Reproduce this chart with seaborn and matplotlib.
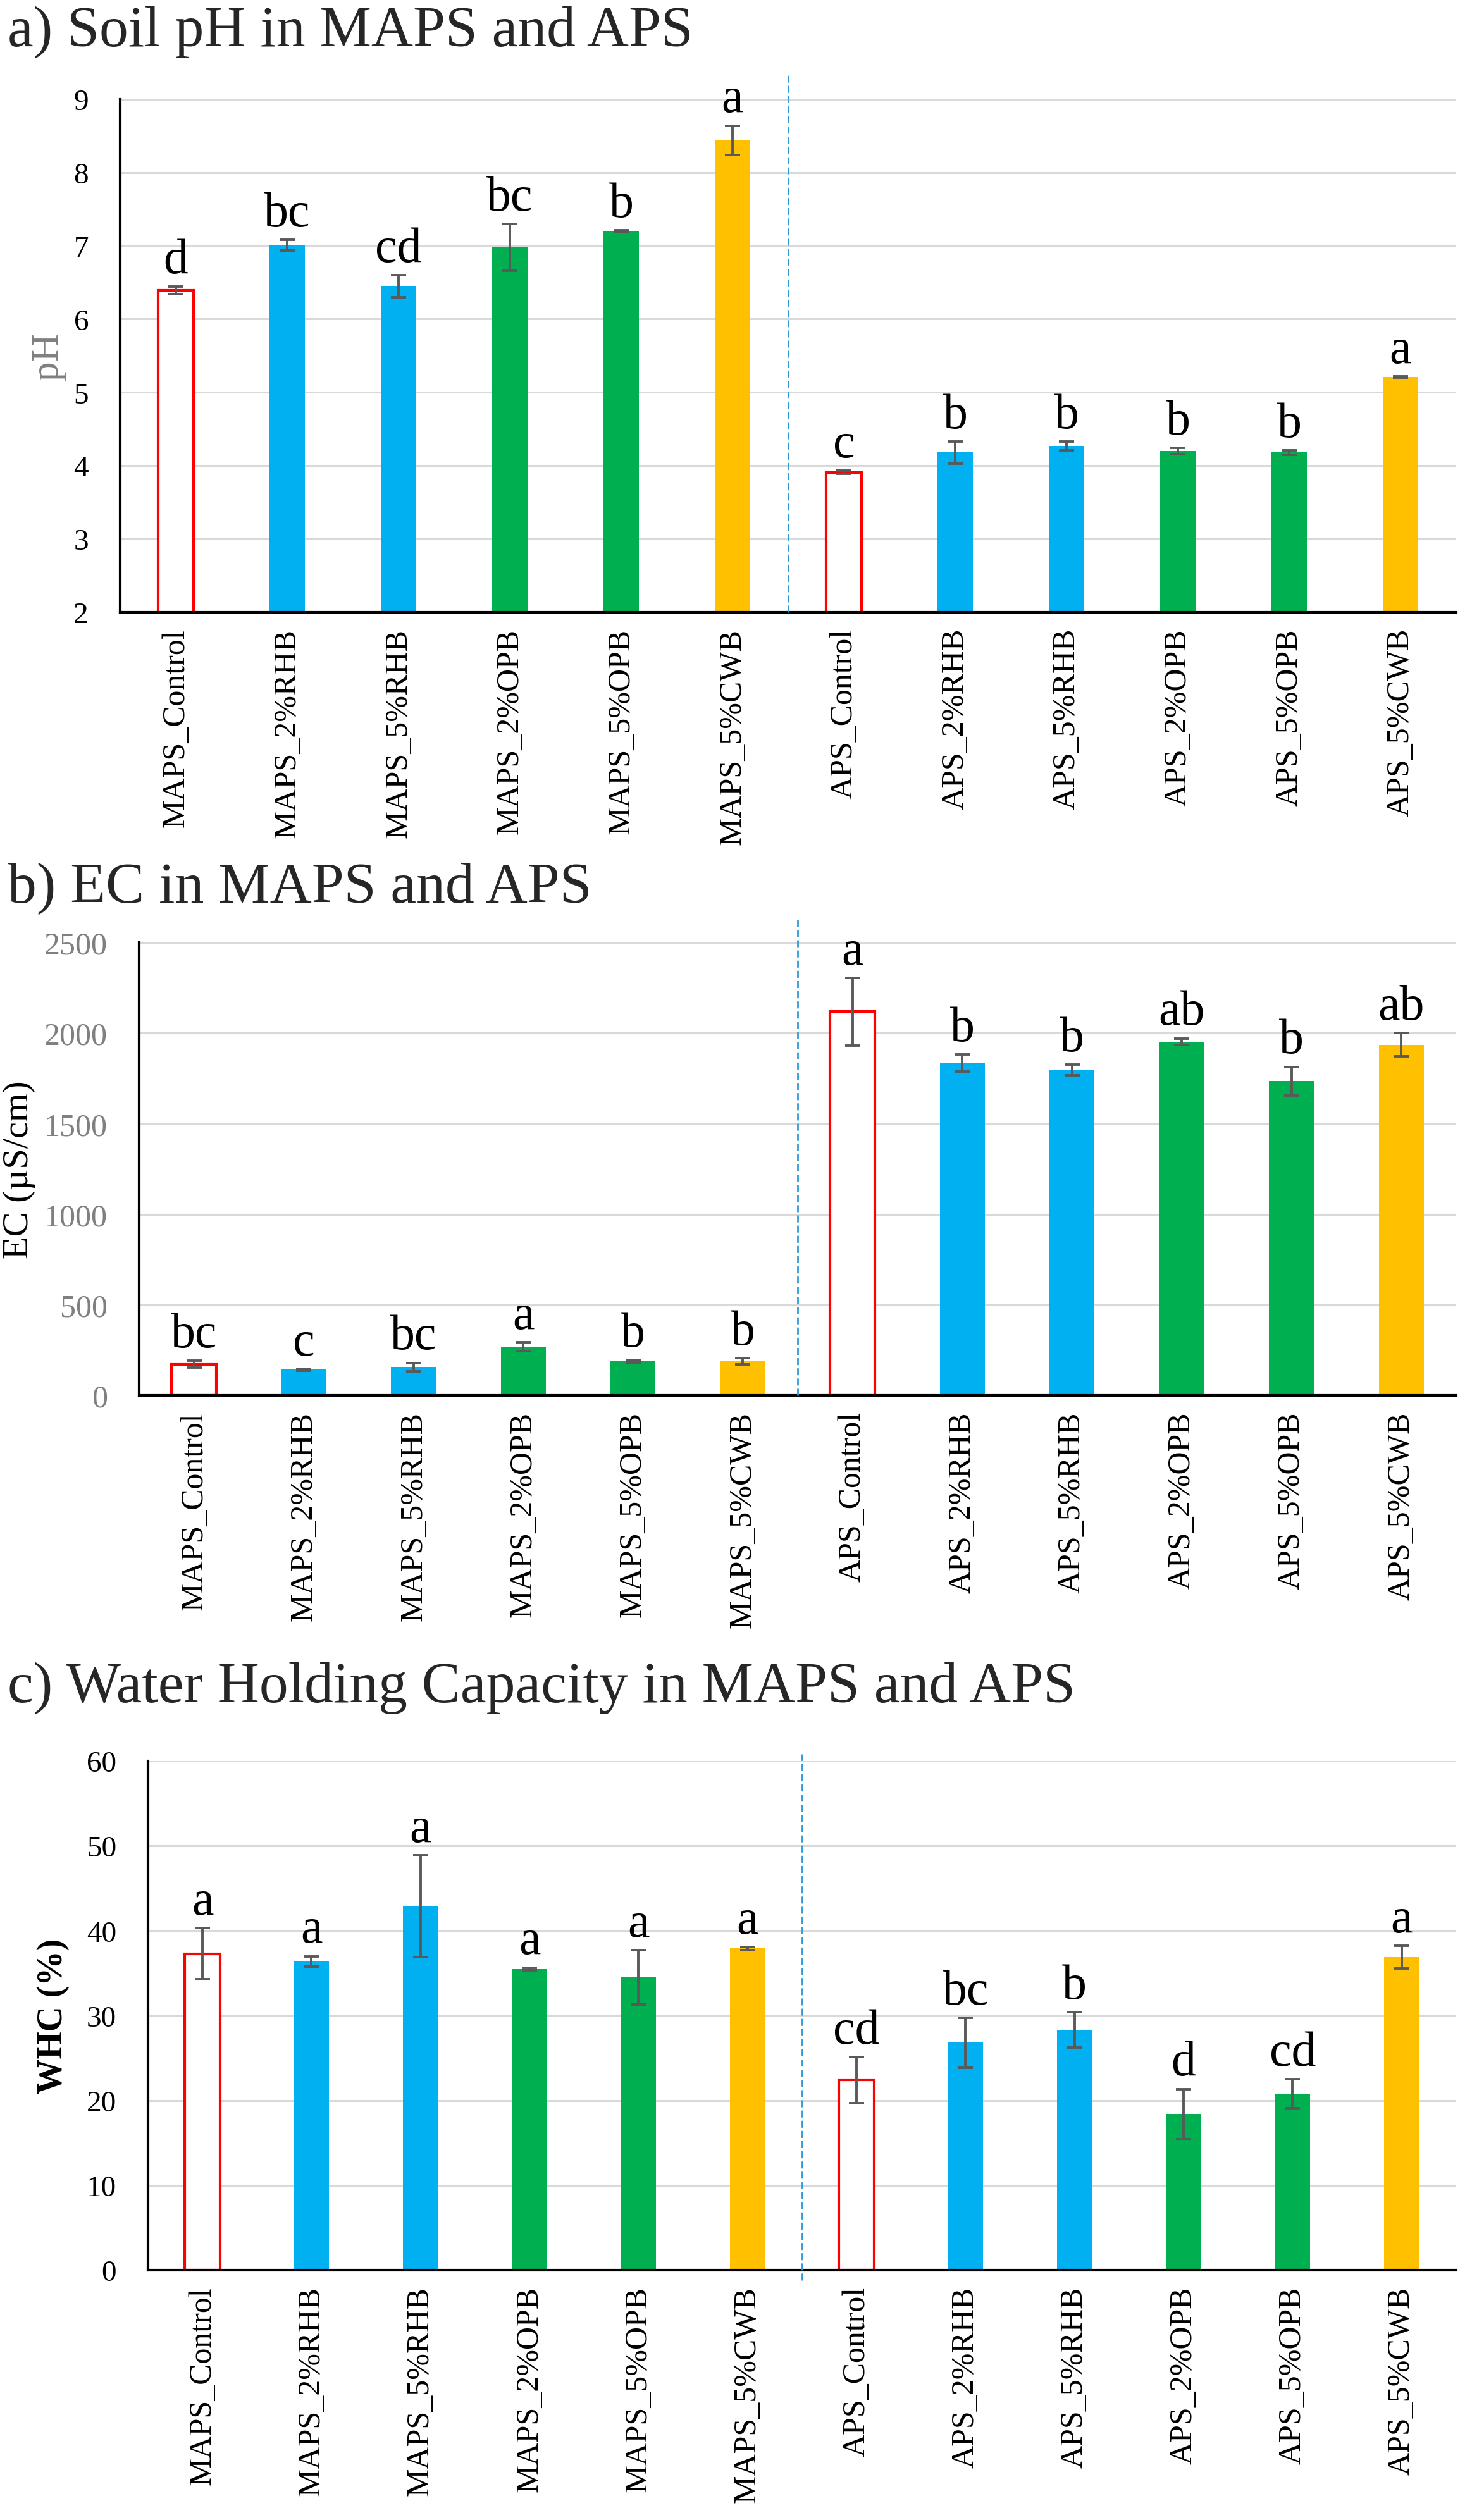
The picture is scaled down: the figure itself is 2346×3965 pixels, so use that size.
import numpy as np
import pandas as pd
import matplotlib
matplotlib.use('Agg')
import matplotlib.pyplot as plt
import seaborn as sns

# Tratamientos (mismo orden en los tres paneles)
treatments = ['MAPS_Control', 'MAPS_2%RHB', 'MAPS_5%RHB', 'MAPS_2%OPB', 'MAPS_5%OPB', 'MAPS_5%CWB',
              'APS_Control', 'APS_2%RHB', 'APS_5%RHB', 'APS_2%OPB', 'APS_5%OPB', 'APS_5%CWB']
amendment = ['Control', 'RHB', 'RHB', 'OPB', 'OPB', 'CWB'] * 2

# a) pH
ph_mean = [6.39, 7.01, 6.45, 6.98, 7.20, 8.44, 3.91, 4.18, 4.27, 4.20, 4.18, 5.21]
ph_sd = [0.05, 0.07, 0.15, 0.32, 0.01, 0.20, 0.02, 0.15, 0.06, 0.04, 0.03, 0.01]
ph_letters = ['d', 'bc', 'cd', 'bc', 'b', 'a', 'c', 'b', 'b', 'b', 'b', 'a']

# b) EC
ec_mean = [173, 142, 156, 270, 189, 189, 2118, 1835, 1796, 1952, 1734, 1935]
ec_sd = [18, 5, 24, 24, 6, 18, 186, 47, 28, 18, 79, 65]
ec_letters = ['bc', 'c', 'bc', 'a', 'b', 'b', 'a', 'b', 'b', 'ab', 'b', 'ab']

# c) WHC
whc_mean = [37.3, 36.4, 42.9, 35.5, 34.5, 37.9, 22.4, 26.8, 28.3, 18.4, 20.8, 36.9]
whc_sd = [3.0, 0.6, 6.0, 0.15, 3.2, 0.2, 2.7, 2.95, 2.1, 2.95, 1.7, 1.35]
whc_letters = ['a', 'a', 'a', 'a', 'a', 'a', 'cd', 'bc', 'b', 'd', 'cd', 'a']

palette = {'Control': '#FFFFFF', 'RHB': '#00B0F0', 'OPB': '#00B050', 'CWB': '#FFC000'}

sns.set_theme(style='white')
plt.rcParams['font.family'] = ['Liberation Serif', 'DejaVu Serif']

fig = plt.figure(figsize=(11.73, 19.83), dpi=200)


def panel(rect, means, sds, letters, ylim, yticks, ylabel, label_x, label_kw,
          tick_color, tick_size, bar_width, dash_lims):
    ax = fig.add_axes(rect)
    df = pd.DataFrame({'treatment': treatments, 'amendment': amendment, 'value': means})
    sns.barplot(data=df, x='treatment', y='value', hue='amendment', palette=palette,
                dodge=False, width=bar_width, saturation=1, errorbar=None,
                legend=False, linewidth=0, ax=ax, zorder=2)
    # controles: barra vacia con borde rojo
    for p in ax.patches:
        if tuple(p.get_facecolor()[:3]) == (1.0, 1.0, 1.0):
            p.set_edgecolor('#FF0000')
            p.set_linewidth(1.5)
    x = np.arange(len(treatments))
    ax.errorbar(x, means, yerr=sds, fmt='none', ecolor='#595959',
                elinewidth=1.4, capsize=4.2, capthick=1.4, zorder=3)
    for i, (m, s, t) in enumerate(zip(means, sds, letters)):
        ax.annotate(t, xy=(i, m + s), xytext=(0, 8), textcoords='offset points',
                    ha='center', va='baseline', fontsize=28, color='black')
    # separacion MAPS / APS
    ax.axvline(5.5, ymin=dash_lims[0], ymax=dash_lims[1], color='#2E9BD8',
               lw=1.0, ls=(0, (4, 1.8)), clip_on=False, zorder=4)
    ax.set_xlim(-0.5, len(treatments) - 0.5)
    ax.set_ylim(*ylim)
    ax.set_yticks(yticks)
    ax.grid(axis='y', color='#D9D9D9', lw=1.1)
    ax.set_axisbelow(True)
    for s in ['top', 'right']:
        ax.spines[s].set_visible(False)
    for s in ['left', 'bottom']:
        ax.spines[s].set_color('black')
        ax.spines[s].set_linewidth(1.5)
    ax.tick_params(axis='y', length=0, pad=18, labelsize=tick_size, labelcolor=tick_color)
    ax.tick_params(axis='x', length=0, pad=9, labelsize=18, labelcolor='black', rotation=90)
    ax.set_xlabel('')
    ax.set_ylabel(ylabel, va='center', **label_kw)
    ax.yaxis.set_label_coords(label_x, 0.5)
    return ax


panel([0.081, 0.7557, 0.9002, 0.2045], ph_mean, ph_sd, ph_letters, (2, 9), range(2, 10),
      'pH', -0.054, dict(fontsize=22, color='#808080'), 'black', 17, 0.32, (0, 1.05))
panel([0.0938, 0.4435, 0.8874, 0.1806], ec_mean, ec_sd, ec_letters, (0, 2500),
      range(0, 2501, 500), 'EC (µS/cm)', -0.0913, dict(fontsize=21, color='black'),
      '#808080', 18, 0.41, (0, 1.057))
panel([0.0997, 0.0948, 0.8815, 0.2030], whc_mean, whc_sd, whc_letters, (0, 60),
      range(0, 61, 10), 'WHC (%)', -0.0725, dict(fontsize=20, color='black', fontweight='bold'),
      'black', 17, 0.32, (-0.02, 1.014))

# titulos de panel
fig.text(0.005, 0.9816, 'a) Soil pH in MAPS and APS', fontsize=33, va='baseline', ha='left')
fig.text(0.005, 0.6404, 'b) EC in MAPS and APS', fontsize=33, va='baseline', ha='left')
fig.text(0.005, 0.3215, 'c) Water Holding Capacity in MAPS and APS', fontsize=33,
         va='baseline', ha='left')

plt.savefig('out.png', dpi=200, facecolor='white')
